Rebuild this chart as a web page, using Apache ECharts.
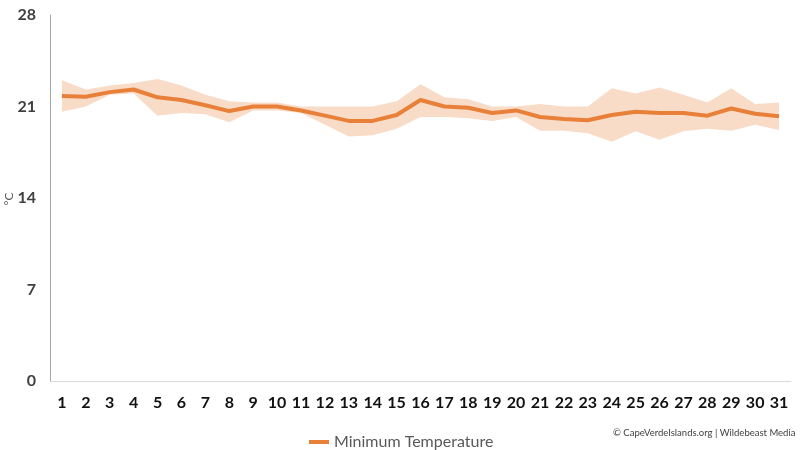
<html lang="en">
<head>
    <meta charset="UTF-8">
    <title>Minimum Temperature</title>
    <script src="https://cdn.jsdelivr.net/npm/echarts@6/dist/echarts.min.js"></script>
</head>
<style>
    html, body { margin: 0; padding: 0; background: #fff; }
    #container { width: 800px; height: 450px; }
</style>
<body>
<div id="container"></div>
<script>
    // days of the month
    var days = [];
    for (var d = 1; d <= 31; d++) days.push(String(d));

    // average minimum temperature, degrees C
    var minTemp = [21.8, 21.75, 22.1, 22.3, 21.7, 21.5, 21.1, 20.65, 21.0, 21.0,
        20.7, 20.3, 19.9, 19.9, 20.35, 21.5, 21.0, 20.9, 20.5, 20.7,
        20.2, 20.05, 19.95, 20.35, 20.6, 20.5, 20.5, 20.3, 20.85, 20.45, 20.25];

    // range band, lower and upper edge
    var bandLow = [20.6, 21.0, 21.9, 22.0, 20.3, 20.5, 20.4, 19.8, 20.7, 20.7,
        20.5, 19.6, 18.7, 18.8, 19.3, 20.2, 20.2, 20.1, 19.9, 20.2,
        19.15, 19.15, 18.95, 18.3, 19.1, 18.45, 19.1, 19.3, 19.15, 19.6, 19.2];
    var bandHigh = [23.0, 22.3, 22.6, 22.8, 23.1, 22.6, 21.9, 21.4, 21.3, 21.3,
        21.0, 21.0, 21.0, 21.0, 21.4, 22.7, 21.7, 21.55, 21.0, 21.0,
        21.2, 21.0, 21.0, 22.4, 22.0, 22.45, 21.9, 21.3, 22.4, 21.2, 21.3];

    var yTicks = [0, 7, 14, 21, 28];

    var bandSpan = bandHigh.map(function (v, i) { return +(v - bandLow[i]).toFixed(2); });

    var chart = echarts.init(document.getElementById('container'));

    var option = {
        animation: false,
        grid: { left: 50, right: 9, top: 15, bottom: 69, containLabel: false, outerBoundsMode: 'none' },
        legend: {
            data: [{ name: 'Minimum Temperature', icon: 'rect' }],
            left: 304,
            top: 429,
            itemWidth: 20,
            itemHeight: 4,
            itemGap: 3,
            textStyle: { fontFamily: 'Lato', fontSize: 16, color: '#595959' }
        },
        graphic: [
            {
                type: 'text',
                left: 613,
                top: 428,
                style: {
                    text: '© CapeVerdeIslands.org | Wildebeast Media',
                    fontFamily: 'Lato',
                    fontSize: 9.5,
                    fill: '#404040'
                }
            },
            {
                // y axis unit, rotated
                type: 'text',
                x: 9,
                y: 199,
                rotation: Math.PI / 2,
                style: {
                    text: '°C',
                    fontFamily: 'Lato',
                    fontSize: 12,
                    fill: '#595959',
                    align: 'center',
                    verticalAlign: 'middle'
                }
            }
        ],
        xAxis: {
            type: 'category',
            data: days,
            boundaryGap: true,
            axisLine: { show: true, lineStyle: { color: '#d9d9d9', width: 1 } },
            axisTick: { show: false },
            axisLabel: {
                interval: 0,
                margin: 14,
                color: '#111',
                fontFamily: 'Lato',
                fontWeight: 'bold',
                fontSize: 16
            }
        },
        yAxis: {
            type: 'value',
            min: yTicks[0],
            max: yTicks[yTicks.length - 1],
            interval: 7,
            axisLine: { show: true, lineStyle: { color: '#a6a6a6', width: 1 } },
            axisTick: { show: false },
            splitLine: { show: false },
            axisLabel: {
                margin: 14,
                color: '#404040',
                fontFamily: 'Lato',
                fontWeight: 'bold',
                fontSize: 16
            }
        },
        series: [
            {
                name: 'low',
                type: 'line',
                stack: 'band',
                data: bandLow,
                symbol: 'none',
                lineStyle: { opacity: 0 },
                silent: true
            },
            {
                name: 'range',
                type: 'line',
                stack: 'band',
                data: bandSpan,
                symbol: 'none',
                lineStyle: { opacity: 0 },
                areaStyle: { color: '#f9dcc8', opacity: 1 },
                silent: true
            },
            {
                name: 'Minimum Temperature',
                type: 'line',
                data: minTemp,
                symbol: 'none',
                lineStyle: { color: '#e8803a', width: 4 },
                itemStyle: { color: '#e8803a' },
                z: 5
            }
        ]
    };

    chart.setOption(option);
</script>
</body>
</html>
